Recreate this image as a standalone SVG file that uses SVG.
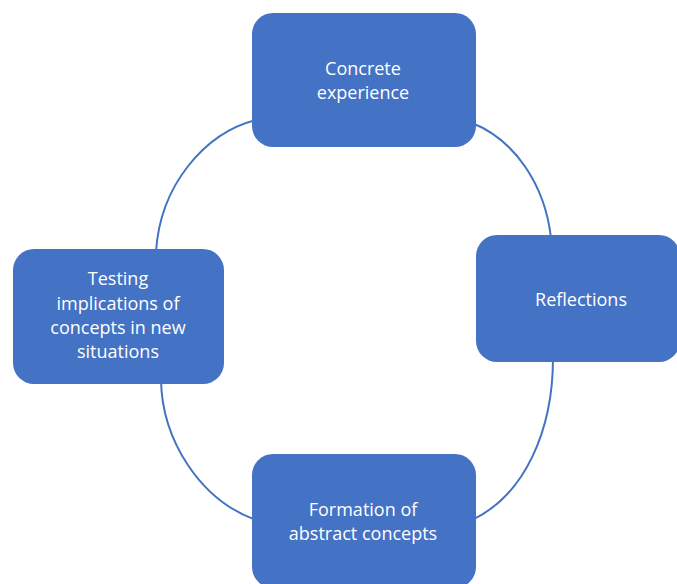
<svg xmlns="http://www.w3.org/2000/svg" width="677" height="584" viewBox="0 0 677 584">
  <style>
    .box { fill: #4472C4; }
    .lbl { fill: #FFFFFF; font-family: "Open Sans", "Noto Sans", sans-serif; font-size: 18px; text-anchor: middle; }
    .arc { fill: none; stroke: #4472C4; stroke-width: 2; }
  </style>
  <rect width="677" height="584" fill="#FFFFFF"/>
  <g id="connectors">
    <path class="arc" d="M256,120 C205,133 160,185 156,252"/>
    <path class="arc" d="M472,123 C515,140 545,185 551,238"/>
    <path class="arc" d="M553,358 C553,430 525,495 472,520"/>
    <path class="arc" d="M161,380 C162,440 200,500 256,520"/>
  </g>
  <g id="node-concrete">
    <rect class="box" x="252" y="13" width="224" height="134" rx="21"/>
    <text class="lbl" x="363" y="75">Concrete</text>
    <text class="lbl" x="363" y="99">experience</text>
  </g>
  <g id="node-reflections">
    <rect class="box" x="476" y="235" width="204" height="127" rx="21"/>
    <text class="lbl" x="581" y="306">Reflections</text>
  </g>
  <g id="node-formation">
    <rect class="box" x="252" y="454" width="224" height="134" rx="21"/>
    <text class="lbl" x="363" y="516">Formation of</text>
    <text class="lbl" x="363" y="540">abstract concepts</text>
  </g>
  <g id="node-testing">
    <rect class="box" x="13" y="249" width="211" height="135" rx="21"/>
    <text class="lbl" x="118" y="285">Testing</text>
    <text class="lbl" x="118" y="310">implications of</text>
    <text class="lbl" x="118" y="334">concepts in new</text>
    <text class="lbl" x="118" y="358">situations</text>
  </g>
</svg>
